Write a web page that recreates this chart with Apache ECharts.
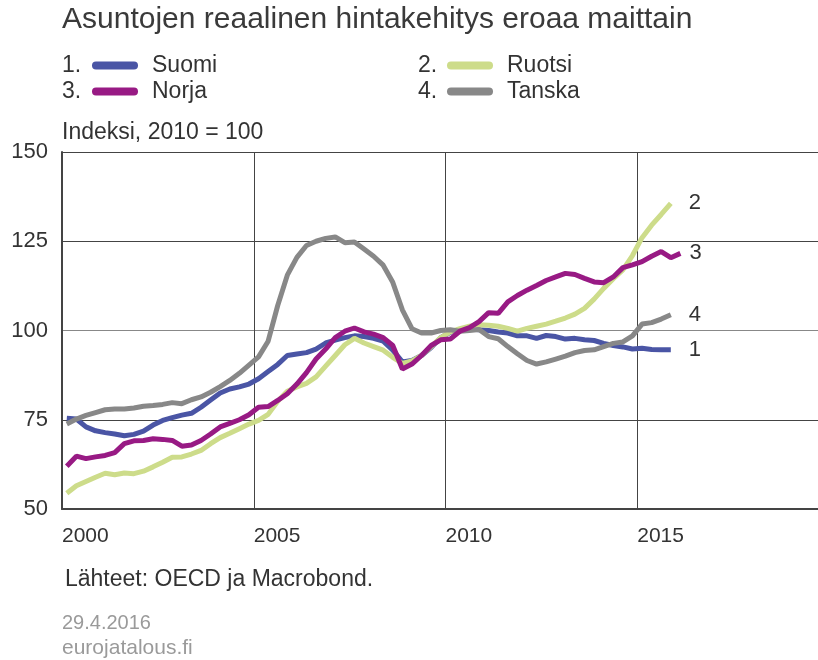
<!DOCTYPE html>
<html>
<head>
<meta charset="utf-8">
<script src="https://cdn.jsdelivr.net/npm/echarts@6/dist/echarts.min.js"></script>
<style>
html,body{margin:0;padding:0;background:#fff;overflow:hidden;width:818px;height:660px;}
#chart{width:832px;height:660px;}
</style>
</head>
<body>
<div id="chart"></div>
<script>
// ---- data (quarterly, 2000Q1 onward; index 2010 = 100) ----
const startYear = 2000;
const seriesNames = ['Suomi', 'Ruotsi', 'Norja', 'Tanska'];
const seriesNumbers = ['1', '2', '3', '4'];
const suomi = [75.4,75.2,73.0,71.9,71.4,71.0,70.5,70.9,71.8,73.5,
  74.8,75.6,76.3,76.8,78.5,80.5,82.5,83.6,84.2,85.0,
  86.5,88.5,90.5,93.0,93.4,93.8,94.8,96.5,97.3,98.0,
  98.5,98.3,97.8,97.0,94.5,91.2,91.6,93.0,95.2,98.0,
  99.5,100.3,100.4,100.2,100.0,99.6,99.3,98.5,98.5,97.8,
  98.6,98.3,97.6,97.8,97.4,97.2,96.4,95.8,95.4,94.8,
  95.0,94.7,94.6,94.6];
const ruotsi = [54.4,56.5,57.7,58.9,60.0,59.6,60.1,59.9,60.6,61.8,
  63.1,64.5,64.6,65.4,66.4,68.3,70.0,71.2,72.5,73.8,
  74.8,76.5,80.2,83.0,84.2,85.2,87.0,90.0,93.0,96.0,
  97.8,96.5,95.5,94.5,92.5,90.8,91.5,93.0,95.5,98.0,
  99.6,100.5,101.2,101.6,101.5,101.2,100.6,99.8,100.6,101.2,
  101.8,102.6,103.5,104.6,106.2,108.8,111.8,114.5,117.0,121.0,
  126.0,129.5,132.5,135.6];
const norja = [62.0,64.8,64.1,64.6,65.0,65.8,68.3,69.1,69.2,69.7,
  69.5,69.2,67.6,67.9,69.2,71.0,73.0,74.0,75.0,76.4,
  78.5,78.7,80.4,82.3,85.0,88.2,92.0,94.8,98.0,99.8,
  100.7,99.6,99.0,98.0,95.8,89.2,90.6,93.0,95.8,97.4,
  97.6,99.8,100.8,102.5,105.0,104.8,108.0,109.8,111.3,112.6,
  114.0,115.0,116.0,115.7,114.6,113.6,113.4,115.0,117.6,118.4,
  119.3,120.8,122.1,120.4,121.6];
const tanska = [73.8,75.2,76.2,77.0,77.8,78.0,78.0,78.3,78.8,79.0,
  79.3,79.8,79.5,80.6,81.4,82.7,84.3,86.0,88.0,90.3,
  92.6,97.0,107.0,115.5,120.5,123.8,125.0,125.8,126.2,124.6,
  124.8,122.8,120.8,118.3,113.5,105.8,100.5,99.3,99.3,100.0,
  100.2,99.8,100.0,100.3,98.3,97.7,95.5,93.5,91.6,90.6,
  91.2,92.0,92.8,93.8,94.4,94.6,95.5,96.4,96.8,98.5,
  101.8,102.2,103.2,104.4];
const yTicks = [50, 75, 100, 125, 150];
const xTickYears = [2000, 2005, 2010, 2015];
const colors = ['#4a55a5', '#cddc8a', '#981a84', '#888888'];

const allValues = [suomi, ruotsi, norja, tanska];
// quarter i plotted at the middle of the quarter
function toPairs(arr) { return arr.map((v, i) => [startYear + (i + 0.5) / 4, v]); }

const FONT = "'Liberation Sans', Arial, sans-serif";
const TXT = '#333333';

const chart = echarts.init(document.getElementById('chart'), null, {renderer: 'canvas'});

const endDist = [18, 18, 9, 18];
const drawOrder = [0, 1, 3, 2];
const series = drawOrder.map(k => ({
  name: seriesNames[k],
  type: 'line',
  data: toPairs(allValues[k]),
  symbol: 'none',
  smooth: false,
  color: colors[k],
  lineStyle: {width: 5, color: colors[k]},
  emphasis: {disabled: true},
  endLabel: {
    show: true,
    formatter: seriesNumbers[k],
    fontFamily: FONT, fontSize: 22, color: TXT,
    distance: endDist[k]
  },
  animation: false
}));

const legendPos = [
  {left: 92, top: 54}, {left: 447, top: 54},
  {left: 92, top: 80}, {left: 447, top: 80}
];
const legends = seriesNames.map((n, k) => ({
  data: [n],
  left: legendPos[k].left, top: legendPos[k].top,
  padding: 0,
  itemWidth: 46, itemHeight: 8,
  icon: 'path://M4,0 L42,0 A4,4 0 0 1 42,8 L4,8 A4,4 0 0 1 4,0 Z',
  selectedMode: false,
  textStyle: {fontFamily: FONT, fontSize: 23, color: TXT, padding: [0, 0, 0, 9]}
}));

const numberGraphics = seriesNumbers.map((s, k) => ({
  type: 'text',
  x: k % 2 === 0 ? 62 : 418,
  y: k < 2 ? 66 : 92,
  style: {text: s + '.', fontFamily: FONT, fontSize: 23, fill: TXT, verticalAlign: 'middle'}
}));

const option = {
  animation: false,
  backgroundColor: '#ffffff',
  title: {
    text: 'Asuntojen reaalinen hintakehitys eroaa maittain',
    left: 62, top: 5, padding: 0,
    textStyle: {fontFamily: FONT, fontSize: 30, fontWeight: 'normal', color: '#3a3a3a'}
  },
  legend: legends,
  grid: {left: 62, right: 0, top: 152, bottom: 151, containLabel: false},
  xAxis: {
    type: 'value',
    min: 2000, max: 2020, interval: 5,
    axisLine: {show: true, onZero: false, lineStyle: {color: '#444', width: 2}},
    axisTick: {show: false},
    axisLabel: {
      fontFamily: FONT, fontSize: 21, color: TXT, align: 'left', margin: 17,
      formatter: v => (xTickYears.indexOf(v) >= 0 ? String(v) : '')
    },
    splitLine: {show: true, lineStyle: {color: '#444', width: 1}}
  },
  yAxis: {
    type: 'value',
    min: yTicks[0], max: yTicks[yTicks.length - 1], interval: 25,
    name: 'Indeksi, 2010 = 100',
    nameLocation: 'end',
    nameGap: 8,
    nameTextStyle: {fontFamily: FONT, fontSize: 23, color: TXT, align: 'left', verticalAlign: 'bottom'},
    axisLine: {show: true, lineStyle: {color: '#444', width: 2}},
    axisTick: {show: false},
    axisLabel: {fontFamily: FONT, fontSize: 22, color: TXT, margin: 14},
    splitLine: {show: true, lineStyle: {color: ['#444', '#444', '#888', '#444', '#444'], width: 1}}
  },
  graphic: numberGraphics.concat([
    {type: 'text', x: 65, y: 580, style: {text: 'Lähteet: OECD ja Macrobond.', fontFamily: FONT, fontSize: 23, fill: TXT, verticalAlign: 'middle'}},
    {type: 'text', x: 62, y: 623, style: {text: '29.4.2016', fontFamily: FONT, fontSize: 20, fill: '#9a9a9a', verticalAlign: 'middle'}},
    {type: 'text', x: 62, y: 648, style: {text: 'eurojatalous.fi', fontFamily: FONT, fontSize: 21, fill: '#9a9a9a', verticalAlign: 'middle'}}
  ]),
  series: series
};
chart.setOption(option);
</script>
</body>
</html>
